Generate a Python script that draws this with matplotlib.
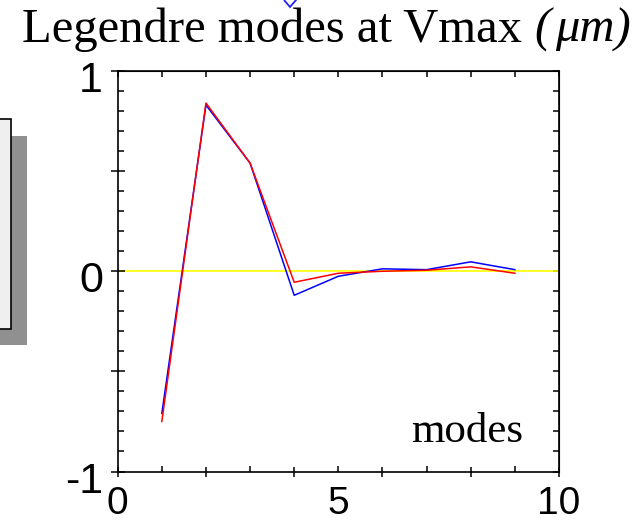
import matplotlib
matplotlib.use("Agg")
import matplotlib.pyplot as plt
from matplotlib.patches import Rectangle, Polygon
from matplotlib.transforms import ScaledTranslation

# ---- data ----
modes = [1, 2, 3, 4, 5, 6, 7, 8, 9]
blue_vals = [-0.71, 0.83, 0.54, -0.12, -0.025, 0.012, 0.008, 0.047, 0.008]
red_vals = [-0.75, 0.84, 0.54, -0.055, -0.01, 0.0, 0.005, 0.022, -0.01]
zero_level = 0.0
x_major = [0, 2, 4, 6, 8, 10]
x_minor = [1, 3, 5, 7, 9]

W, H = 637, 522
fig = plt.figure(figsize=(W / 100, H / 100), dpi=100)
fig.patch.set_facecolor("white")

def fx(px):
    return px / W

def fy(py):
    return 1 - py / H

# axes placement
left, right, top, bottom = 117.7, 559.0, 71.0, 471.5
ax = fig.add_axes([fx(left), fy(bottom), fx(right) - fx(left), fy(top) - fy(bottom)])
ax.set_xlim(0, 10)
ax.set_ylim(-1, 1)

ax.axhline(zero_level, color="#ffff00", lw=1.2, zorder=1)
ax.plot(modes, blue_vals, color="#0000ff", lw=1.1, zorder=2)
ax.plot(modes, red_vals, color="#ff0000", lw=1.1, zorder=3)

for s in ax.spines.values():
    s.set_linewidth(1.2)
    s.set_color("black")

# x ticks
ax.set_xticks(x_major, labels=["0", "", "", "", "", "10"])
ax.set_xticks(x_minor, labels=["", "", "5", "", ""], minor=True)
ax.tick_params(axis="x", which="major", direction="inout", length=7, width=1.1, pad=7,
               labelsize=28, labelfontfamily="Liberation Sans")
ax.tick_params(axis="x", which="minor", direction="in", length=4, width=1.1, pad=10.5,
               labelsize=28, labelfontfamily="Liberation Sans")

# y ticks
ax.set_yticks([-1, -0.5, 0, 0.5, 1], labels=["-1", "", "0", "", "1"])
ax.set_yticks([v / 10 for v in range(-10, 11) if v % 5 != 0], minor=True)
ax.tick_params(axis="y", which="major", direction="inout", length=10, width=1.1, pad=5.5,
               labelsize=31, labelfontfamily="Liberation Sans")
ax.tick_params(axis="y", which="minor", direction="in", length=4, width=1.1)
for lab in ax.get_yticklabels():
    lab.set_transform(lab.get_transform() + ScaledTranslation(0, -4 / 72, fig.dpi_scale_trans))

# top / right ticks (inward)
secx = ax.secondary_xaxis("top")
secx.set_xticks(list(range(0, 11)))
secx.tick_params(direction="in", length=4, width=1.1, labeltop=False)
secy = ax.secondary_yaxis("right")
secy.set_yticks([v / 10 for v in range(-10, 11)])
secy.tick_params(direction="in", length=4, width=1.1, labelright=False)

ax.text(9.18, -0.853, "modes", family="Liberation Serif", fontsize=31, ha="right", va="baseline")

# title
t1 = fig.text(fx(22), fy(41.7), "Legendre modes at Vmax ", family="Liberation Serif",
              fontsize=35, ha="left", va="baseline")
fig.canvas.draw()
bb = t1.get_window_extent()
t2 = fig.text(bb.x1 / W, fy(41.7), "(", family="Liberation Serif", style="italic",
              fontsize=35, ha="left", va="baseline")
fig.canvas.draw()
bb2 = t2.get_window_extent()
fig.text((bb2.x1 + 5) / W, fy(41.7), "μm)", family="Liberation Serif", style="italic",
         fontsize=35, ha="left", va="baseline")

# left box with shadow (mostly off canvas)
fig.add_artist(Rectangle((fx(-20), fy(345)), fx(47), fy(136) - fy(345),
                         transform=fig.transFigure, facecolor="#909090", edgecolor="none"))
fig.add_artist(Rectangle((fx(-20), fy(329.3)), fx(31), fy(119.3) - fy(329.3),
                         transform=fig.transFigure, facecolor="#efefef", edgecolor="black",
                         lw=1.2))

# blue diamond marker at top (partially visible)
dx, dy = 290, 0
fig.add_artist(Polygon([(fx(dx - 6), fy(dy)), (fx(dx), fy(dy + 7)), (fx(dx + 6), fy(dy)),
                        (fx(dx), fy(dy - 7))], closed=True, transform=fig.transFigure,
                       facecolor="none", edgecolor="#2020ff", lw=1.3))

fig.savefig("out.png", dpi=100)
